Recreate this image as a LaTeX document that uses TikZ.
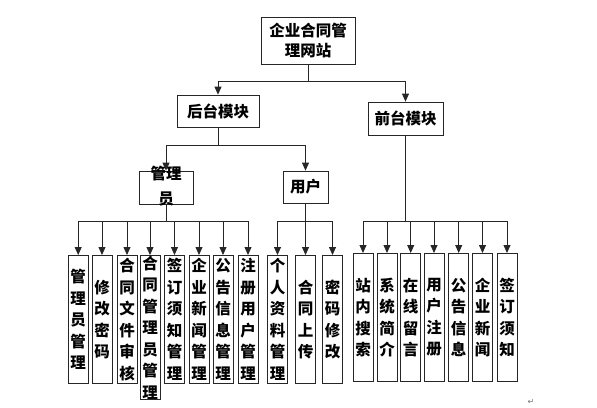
\documentclass[tikz,border=0pt]{standalone}
\usepackage{fontspec}
\setmainfont{Noto Sans CJK SC}
\newfontfamily\djv{DejaVu Sans}
\usetikzlibrary{arrows.meta}
\begin{document}
\begin{tikzpicture}[x=1pt,y=-1pt,
 box/.style={draw=black!85, line width=0.8pt, inner sep=0pt, align=center, font=\bfseries\fontsize{15.5}{20}\selectfont},
 leaf/.style={box, minimum width=20pt, minimum height=128pt, anchor=north, font=\bfseries\fontsize{15.5}{21.5}\selectfont},
 arr/.style={-{Triangle[length=8pt,width=7pt]}, line width=0.8pt, draw=black!85},
 ln/.style={line width=0.8pt, draw=black!85}]
\useasboundingbox[fill=white] (0,0) rectangle (597,407);

% upper levels
\node[box, minimum width=94pt, minimum height=47pt] (root) at (308,40.5) {企业合同管\\理网站};
\node[box, minimum width=82pt, minimum height=32pt] (back) at (218,111) {后台模块};
\node[box, minimum width=75pt, minimum height=33pt] (front) at (405.5,118.5) {前台模块};
\node[box, minimum width=54pt, minimum height=33pt] (mgr) at (166,187.5) {};
\node[align=center, inner sep=0pt, font=\bfseries\fontsize{15.5}{25}\selectfont] (mgrtxt) at (166,186) {管理\\员};
\node[box, minimum width=45pt, minimum height=32pt] (user) at (305.5,187) {用户};

% back-end leaves
\node[leaf] (b1) at (78.2,255) {管\\理\\员\\管\\理};
\node[leaf] (b2) at (102,255) {修\\改\\密\\码};
\node[leaf] (b3) at (127,255) {合\\同\\文\\件\\审\\核};
\node[leaf, minimum height=144pt] (b4) at (150,255) {合\\同\\管\\理\\员\\管\\理};
\node[leaf] (b5) at (174.5,255) {签\\订\\须\\知\\管\\理};
\node[leaf] (b6) at (199,255) {企\\业\\新\\闻\\管\\理};
\node[leaf] (b7) at (223,255) {公\\告\\信\\息\\管\\理};
\node[leaf] (b8) at (248,255) {注\\册\\用\\户\\管\\理};

% user leaves
\node[leaf] (u1) at (277.5,255) {个\\人\\资\\料\\管\\理};
\node[leaf] (u2) at (305.5,255) {合\\同\\上\\传};
\node[leaf] (u3) at (332.5,255) {密\\码\\修\\改};

% front-end leaves
\node[leaf] (f1) at (363,253) {站\\内\\搜\\索};
\node[leaf] (f2) at (387,253) {系\\统\\简\\介};
\node[leaf] (f3) at (410.7,253) {在\\线\\留\\言};
\node[leaf] (f4) at (434,253) {用\\户\\注\\册};
\node[leaf] (f5) at (458.7,253) {公\\告\\信\\息};
\node[leaf] (f6) at (482.5,253) {企\\业\\新\\闻};
\node[leaf] (f7) at (507,253) {签\\订\\须\\知};

% junctions
\coordinate (j1) at (308,81);
\coordinate (j2) at (218,145);
\coordinate (j3) at (166,221);
\coordinate (j4) at (305.5,221);
\coordinate (j5) at (405.5,221.5);

\draw[ln] (root.south) -- (j1);
\draw[arr] (j1) -| (back.north);
\draw[arr] (j1) -| (front.north);
\draw[ln] (back.south) -- (j2);
\draw[arr] (j2) -| (mgr.north);
\draw[arr] (j2) -| (user.north);
\draw[ln] (mgr.south) -- (j3);
\foreach \n in {b1,b2,b3,b4,b5,b6,b7,b8} \draw[arr] (j3) -| (\n.north);
\draw[ln] (user.south) -- (j4);
\foreach \n in {u1,u2,u3} \draw[arr] (j4) -| (\n.north);
\draw[ln] (front.south) -- (j5);
\foreach \n in {f1,f2,f3,f4,f5,f6,f7} \draw[arr] (j5) -| (\n.north);

\node[font=\djv\fontsize{8}{8}\selectfont, text=black!55, inner sep=0pt] (ret) at (531,402) {↵};
\end{tikzpicture}
\end{document}
